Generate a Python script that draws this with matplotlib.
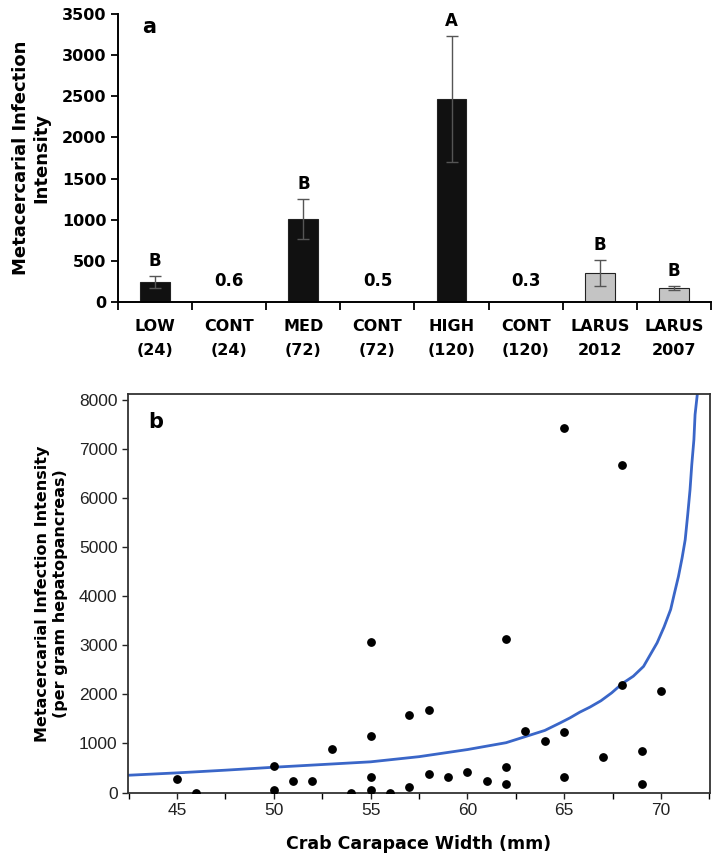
import numpy as np
import matplotlib
matplotlib.use('Agg')
import matplotlib.pyplot as plt

# panel a: bar chart
cats = ['LOW\n(24)', 'CONT\n(24)', 'MED\n(72)', 'CONT\n(72)', 'HIGH\n(120)',
        'CONT\n(120)', 'LARUS\n2012', 'LARUS\n2007']
means = [243, 0, 1008, 0, 2467, 0, 352, 170]
errs = [70, 0, 242, 0, 765, 0, 162, 22]
letters = ['B', '0.6', 'B', '0.5', 'A', '0.3', 'B', 'B']
is_field = [False, False, False, False, False, False, True, True]

# panel b: scatter + fitted curve
crab_w = [45, 46, 50, 50, 51, 52, 53, 54, 55, 55, 55, 55, 56, 57, 57, 58, 58,
          59, 60, 61, 62, 62, 62, 63, 64, 65, 65, 65, 67, 68, 68, 69, 69, 70]
intensity = [279, 0, 550, 55, 230, 230, 890, 0, 3069, 1147, 312, 55, 0, 115,
             1575, 1690, 367, 312, 428, 231, 3130, 516, 170, 1263, 1059, 7427,
             1229, 312, 720, 6680, 2200, 855, 170, 2063]
curve_x = [42.5, 45, 47.5, 50, 52.5, 55, 57.5, 60, 62, 63, 64, 64.8, 65.3,
           65.8, 66.33, 66.9, 67.45, 68, 68.57, 69.1, 69.43, 69.8, 70.16, 70.5,
           70.69, 70.9, 71.09, 71.25, 71.38, 71.5, 71.59, 71.7, 71.76, 71.9]
curve_y = [352, 400, 455, 515, 570, 625, 730, 875, 1015, 1140, 1265, 1420, 1521,
           1636, 1740, 1870, 2030, 2220, 2370, 2570, 2797, 3050, 3375, 3730,
           4053, 4400, 4780, 5150, 5660, 6170, 6680, 7190, 7700, 8200]

fig = plt.figure(figsize=(7.17, 8.56), dpi=100)

# ---- panel a ----
ax = fig.add_axes([0.1646, 0.6472, 0.827, 0.3364])
pos = np.arange(len(cats))
cols = ['#c4c4c4' if f else '#111111' for f in is_field]
ax.bar(pos, means, width=0.4, color=cols, edgecolor='#222222', linewidth=0.8, zorder=2)
for i in range(len(cats)):
    if errs[i] > 0:
        ax.errorbar(pos[i], means[i], yerr=errs[i], fmt='none', ecolor='#555555',
                    elinewidth=1.0, capsize=4, capthick=1.0, zorder=3)
        ax.text(pos[i], means[i] + errs[i] + 70, letters[i], ha='center', va='bottom',
                fontsize=12, fontweight='bold')
    else:
        ax.text(pos[i], 150, letters[i], ha='center', va='bottom',
                fontsize=12, fontweight='bold')

ax.set_xlim(-0.5, len(cats) - 0.5)
ax.set_ylim(0, 3500)
ax.set_yticks(np.arange(0, 3501, 500))
ax.set_xticks(pos)
ax.set_xticklabels(cats, fontsize=11.5, fontweight='bold', linespacing=1.75)
ax.set_xticks(np.arange(-0.5, len(cats), 1), minor=True)
ax.tick_params(axis='x', which='major', length=0, pad=12)
ax.tick_params(axis='x', which='minor', length=6, width=1.3, direction='out')
ax.tick_params(axis='y', length=5, width=1.3, labelsize=11.5)
for lab in ax.get_yticklabels():
    lab.set_fontweight('bold')
for s in ['top', 'right']:
    ax.spines[s].set_visible(False)
for s in ['left', 'bottom']:
    ax.spines[s].set_linewidth(1.4)
ax.set_ylabel('Metacercarial Infection\nIntensity', fontsize=13, fontweight='bold',
              labelpad=8)
ax.text(0.04, 0.99, 'a', transform=ax.transAxes, fontsize=15, fontweight='bold',
        va='top', ha='left')

# ---- panel b ----
bx = fig.add_axes([0.1785, 0.0736, 0.8117, 0.4661])
bx.plot(curve_x, curve_y, color='#3a66c8', lw=2.0, zorder=2,
        solid_joinstyle='round', solid_capstyle='round')
bx.scatter(crab_w, intensity, s=28, color='black', zorder=3)
bx.set_xlim(42.47, 72.53)
bx.set_ylim(-10, 8120)
bx.set_xticks([45, 50, 55, 60, 65, 70])
bx.set_xticks(np.arange(42.5, 73, 2.5), minor=True)
bx.set_yticks(np.arange(0, 8001, 1000))
for lab in bx.get_xticklabels() + bx.get_yticklabels():
    lab.set_fontfamily('Liberation Sans')
bx.tick_params(axis='both', which='major', length=4, width=1.0, labelsize=12.5,
               colors='#222222')
bx.tick_params(axis='x', which='minor', length=4, width=1.0)
for s in bx.spines.values():
    s.set_linewidth(1.3)
    s.set_color('#333333')
bx.set_xlabel('Crab Carapace Width (mm)', fontsize=12.5, fontweight='bold', labelpad=12)
bx.set_ylabel('Metacercarial Infection Intensity\n(per gram hepatopancreas)',
              fontsize=11.5, fontweight='bold', labelpad=8)
bx.text(0.035, 0.955, 'b', transform=bx.transAxes, fontsize=15, fontweight='bold',
        va='top', ha='left')

fig.savefig('out.png', dpi=100)
